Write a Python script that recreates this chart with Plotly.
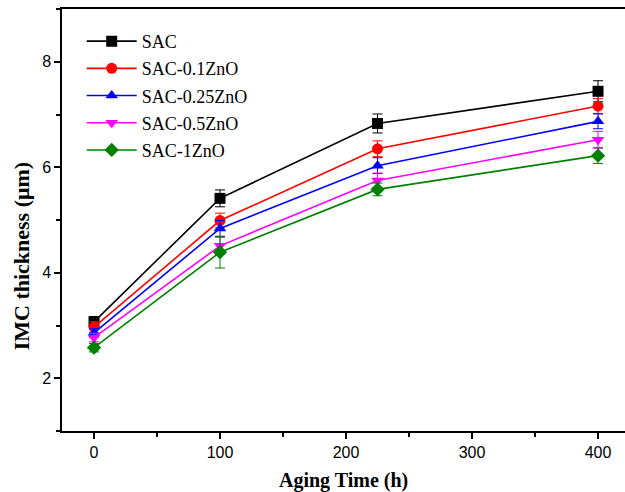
import plotly.graph_objects as go

aging_time = [0, 100, 225, 400]
series_names = ["SAC", "SAC-0.1ZnO", "SAC-0.25ZnO", "SAC-0.5ZnO", "SAC-1ZnO"]
sac = [3.07, 5.41, 6.83, 7.44]
sac_01 = [2.97, 4.99, 6.35, 7.16]
sac_025 = [2.86, 4.84, 6.03, 6.87]
sac_05 = [2.77, 4.51, 5.75, 6.52]
sac_1 = [2.58, 4.39, 5.58, 6.22]
err_sac = [0.10, 0.16, 0.18, 0.20]
err_01 = [0.10, 0.14, 0.15, 0.14]
err_025 = [0.08, 0.15, 0.15, 0.14]
err_05 = [0.08, 0.16, 0.14, 0.16]
err_1 = [0.08, 0.30, 0.12, 0.15]

values = [sac, sac_01, sac_025, sac_05, sac_1]
errors = [err_sac, err_01, err_025, err_05, err_1]
colors = ["#000000", "#ff0000", "#0000ff", "#ff00ff", "#008000"]
symbols = ["square", "circle", "triangle-up", "triangle-down", "diamond"]

fig = go.Figure()
for name, v, e, c, s in zip(series_names, values, errors, colors, symbols):
    fig.add_trace(go.Scatter(
        x=aging_time, y=v, name=name, mode="lines+markers", legendgroup=name,
        line=dict(color=c, width=1.6),
        marker=dict(symbol=s, size=11, color=c),
        error_y=dict(type="data", array=e, visible=True, color=c, thickness=1, width=5),
    ))

fig.update_layout(
    width=625, height=492,
    margin=dict(l=62, r=0, t=9, b=61, autoexpand=False),
    paper_bgcolor="white", plot_bgcolor="white",
    showlegend=True,
    legend=dict(x=0.035, y=0.967, xanchor="left", yanchor="top",
                font=dict(family="Liberation Serif", size=18, color="black"),
                bgcolor="rgba(0,0,0,0)", tracegroupgap=0.8, itemwidth=50),
    xaxis=dict(
        range=[-25.4, 421.4], showgrid=False, zeroline=False, automargin=False,
        showline=True, linecolor="black", linewidth=1.5, mirror=True,
        ticks="outside", ticklen=6, tickwidth=1.5, tickcolor="black",
        tickmode="array", tickvals=[0, 100, 200, 300, 400],
        minor=dict(tickvals=[50, 150, 250, 350], ticks="outside", ticklen=4, tickwidth=1.5, tickcolor="black"),
        tickfont=dict(family="Liberation Sans", size=16, color="black"),
    ),
    yaxis=dict(
        range=[1, 9], showgrid=False, zeroline=False, automargin=False,
        showline=True, linecolor="black", linewidth=1.5, mirror=False,
        ticks="outside", ticklen=6, tickwidth=1.5, tickcolor="black",
        tickmode="array", tickvals=[2, 4, 6, 8],
        minor=dict(tickvals=[1, 3, 5, 7, 9], ticks="outside", ticklen=4, tickwidth=1.5, tickcolor="black"),
        tickfont=dict(family="Liberation Sans", size=16, color="black"),
    ),
    annotations=[
        dict(text="<b>Aging Time (h)</b>", xref="paper", yref="paper", x=0.5, y=-0.118,
             xanchor="center", yanchor="middle", showarrow=False,
             font=dict(family="Liberation Serif", size=20, color="black")),
        dict(text="<b>IMC thickness (μm)</b>", xref="paper", yref="paper", x=-0.072, y=0.415,
             xanchor="center", yanchor="middle", showarrow=False, textangle=-90,
             font=dict(family="Liberation Serif", size=22, color="black")),
    ],
)

fig.write_html("out.html", config={"displayModeBar": False},
               post_script="document.body.style.margin='0px';document.body.style.padding='0px';")
